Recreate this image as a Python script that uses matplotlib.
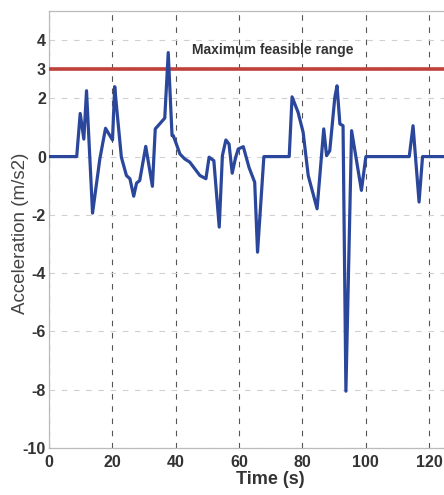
import matplotlib
matplotlib.use('Agg')
import matplotlib.pyplot as plt

# Acceleration trace
time_s = [0, 8.8, 9.9, 11.05, 11.9, 13.8, 16.1, 17.9, 20.1, 20.8, 21.4, 22.9,
          24.5, 25.6, 26.8, 27.7, 28.7, 30.6, 32.7, 33.6, 36.6, 37.7, 38.9,
          39.3, 41.4, 42.9, 44.5, 46.1, 47.7, 49.6, 50.6, 52.1, 53.8, 54.8,
          55.9, 56.9, 57.9, 59.0, 59.8, 61.4, 63.2, 65.0, 65.9, 67.9, 75.9,
          76.8, 78.7, 80.3, 81.9, 84.7, 86.8, 87.7, 88.7, 90.3, 91.0, 91.9,
          92.9, 93.8, 95.6, 98.7, 100.1, 113.8, 115.0, 116.9, 118.0, 140]
accel = [0, 0, 1.48, 0.6, 2.26, -1.94, -0.08, 0.97, 0.57, 2.4, 1.69, -0.02,
         -0.65, -0.76, -1.36, -0.91, -0.82, 0.35, -1.02, 0.95, 1.32, 3.57, 0.72,
         0.72, 0.09, -0.08, -0.19, -0.42, -0.65, -0.76, -0.02, -0.14, -2.42, 0.03,
         0.57, 0.43, -0.57, -0.02, 0.26, 0.34, -0.37, -0.88, -3.28, 0.0, 0.0,
         2.05, 1.52, 0.83, -0.65, -1.79, 0.95, 0.03, 0.2, 2.03, 2.43, 1.12,
         1.06, -8.05, 0.89, -1.16, 0.0, 0.0, 1.06, -1.56, 0.0, 0.0]

max_range = 3.0
x_ticks = [0, 20, 40, 60, 80, 100, 120, 140]
y_ticks = [-10, -8, -6, -4, -2, 0, 2, 3, 4]

plt.rcParams['font.family'] = ['Liberation Sans', 'DejaVu Sans']
plt.rcParams['axes.unicode_minus'] = False

fig = plt.figure(figsize=(4.44, 4.95), dpi=100)
# axes runs past the right edge, as in the cropped original
ax = fig.add_axes([0.110, 0.095, 0.9986, 0.883])

ax.axhline(max_range, color='#c0403a', linewidth=2.6, zorder=3)
ax.plot(time_s, accel, color='#2b479b', linewidth=2.3, zorder=4)
ax.text(70.8, 3.66, 'Maximum feasible range', ha='center', va='center',
        fontsize=10, fontweight='bold', color='#333333')

ax.set_xlim(0, 140)
ax.set_ylim(-10, 5)
ax.set_xticks(x_ticks)
ax.set_yticks(y_ticks)

# vertical grid darker than horizontal
ax.xaxis.grid(True, linestyle=(0, (5, 6)), color='#555555', linewidth=0.8)
ax.yaxis.grid(True, linestyle=(0, (5, 6)), color='#d0d0d0', linewidth=0.8)
ax.set_axisbelow(True)

for side in ['left', 'bottom', 'top', 'right']:
    ax.spines[side].set_color('#bbbbbb')
    ax.spines[side].set_linewidth(0.9)

ax.tick_params(length=0, labelsize=11.5, labelcolor='#333333')
ax.tick_params(axis='y', pad=2)
ax.tick_params(axis='x', pad=5)
for lab in ax.get_xticklabels() + ax.get_yticklabels():
    lab.set_fontweight('bold')

ax.set_xlabel('Time (s)', fontsize=13, fontweight='bold', color='#333333', labelpad=1)
ax.set_ylabel('Acceleration (m/s2)', fontsize=13.5, color='#444444')
ax.yaxis.label.set_verticalalignment('center')
ax.yaxis.set_label_coords(-0.063, 0.49)

fig.savefig('out.png', dpi=100, facecolor='white')
